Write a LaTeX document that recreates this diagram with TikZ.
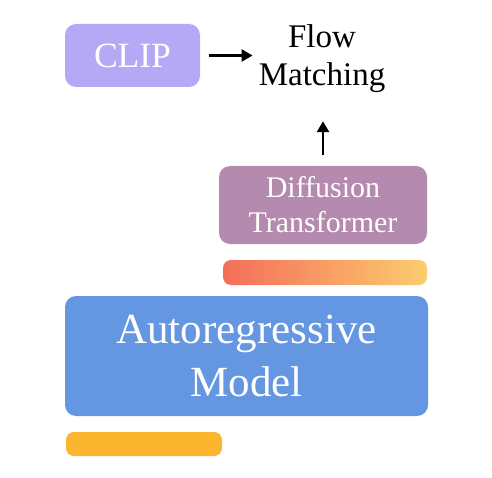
\documentclass[tikz,border=0pt]{standalone}
\usepackage{fontspec}
\setmainfont{Liberation Serif}
\usetikzlibrary{arrows.meta}
\definecolor{clipc}{RGB}{181,169,245}
\definecolor{ditc}{RGB}{180,138,175}
\definecolor{arc}{RGB}{100,150,226}
\definecolor{orangec}{RGB}{251,181,47}
\definecolor{gradl}{RGB}{244,110,90}
\definecolor{gradr}{RGB}{252,204,110}
\tikzset{
  box/.style={rounded corners=11pt, inner sep=0pt, text=white, align=center},
  bar/.style={rounded corners=8pt, inner sep=0pt},
  arr/.style={-{Triangle[length=11pt,width=12pt]}, line width=2.6pt, black},
}
\begin{document}
\begin{tikzpicture}[x=1pt,y=-1pt]
\useasboundingbox (0,0) rectangle (492,478);
\node[box, fill=clipc, minimum width=135pt, minimum height=63pt,
      font=\fontsize{35.5}{40}\selectfont] (clip) at (132.5,55.5) {CLIP};
\node[inner sep=0pt, align=center, font=\fontsize{33}{38}\selectfont] (flow) at (322,59) {Flow\\Matching};
\node[box, fill=ditc, minimum width=208pt, minimum height=78pt,
      font=\fontsize{30}{35}\selectfont] (dit) at (323,205) {Diffusion\\Transformer};
\node[bar, left color=gradl, right color=gradr, minimum width=204pt, minimum height=25pt] (grad) at (325,272.5) {};
\node[box, fill=arc, minimum width=363pt, minimum height=120pt,
      font=\fontsize{43}{53}\selectfont] (ar) at (246.5,356) {Autoregressive\\Model};
\node[bar, fill=orangec, minimum width=156pt, minimum height=24pt] (orange) at (144,444) {};
\draw[arr, shorten <=9pt, shorten >=6pt] (clip.east) -- (clip.east -| flow.west);
\draw[arr, shorten <=11pt, shorten >=28pt] (dit.north) -- (dit.north |- flow.south);
\end{tikzpicture}
\end{document}
